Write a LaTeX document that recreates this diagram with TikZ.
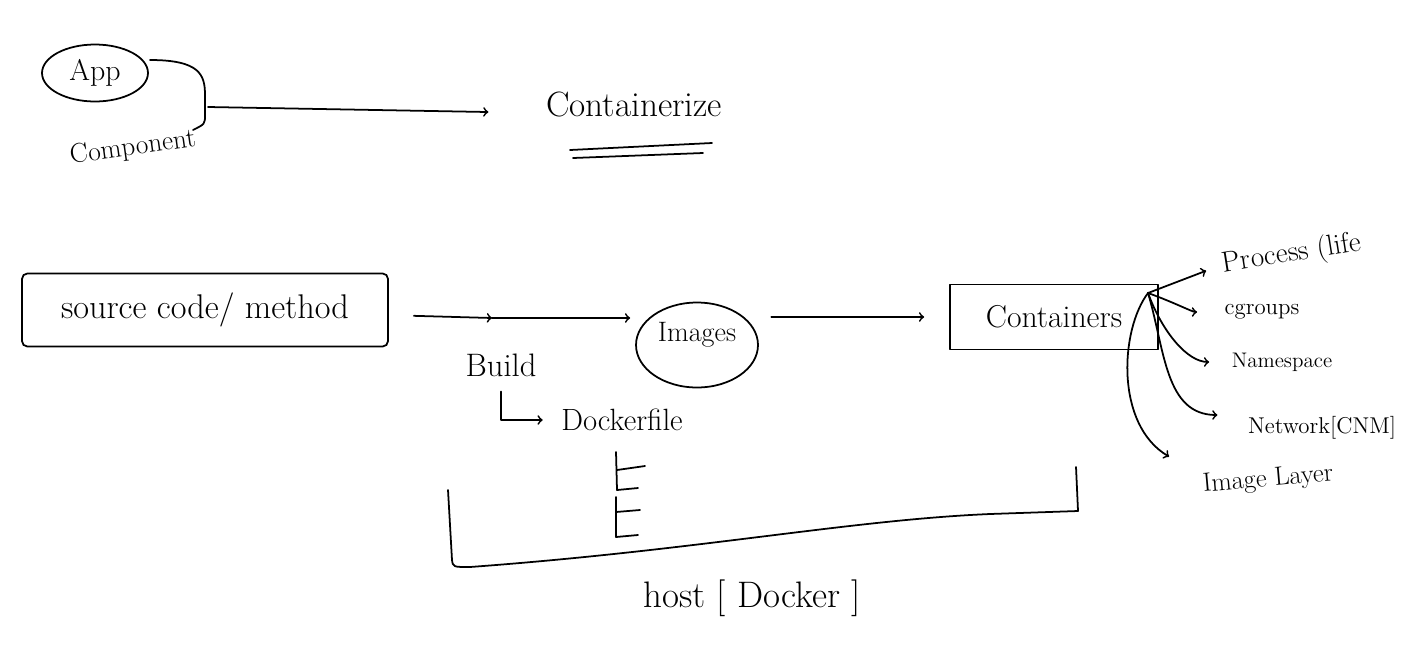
\documentclass[tikz,border=0pt]{standalone}
\usepackage{tikz}
\usetikzlibrary{shapes.geometric}

\begin{document}
\begin{tikzpicture}[x=0.02cm,y=-0.02cm,line width=1pt,line cap=round,line join=round,
    txt/.style={font=\fontsize{#1}{#1}\selectfont,inner sep=1pt},
    oval/.style={draw,ellipse,inner sep=0pt},
    box/.style={draw,rectangle,inner sep=0pt}]
         \useasboundingbox (0,0) rectangle (1408,670) ;
         % top row
         \node[oval,minimum width=2.12cm,minimum height=1.14cm,txt=17] (app) at (95,73) {App} ;
         \node[txt=15.5,rotate=8] (comp) at (133,148) {Component} ;
         \draw (150,60) .. controls (200,60) and (205,75) .. (205,95) -- (205,115) .. controls (205,124) .. (193,130) ;
         \coordinate (brace) at (208,107) ;
         \node[txt=20] (ctr) at (634,104) {Containerize} ;
         \draw[->,shorten >=1.1cm] (brace) -- (ctr.west |- 0,113) ;
         \draw (570,150) -- (712,143) ;
         \draw (573,158) -- (703,153) ;
         % build chain
         \node[box,rounded corners=3pt,minimum width=7.32cm,minimum height=1.46cm,txt=19.5] (src) at (205,310) {source code/ method} ;
         \coordinate (bmid) at (492,318) ;
         \node[oval,minimum width=2.44cm,minimum height=1.7cm,txt=16,text depth=15pt] (img) at (697,345) {Images} ;
         \node[box,minimum width=4.16cm,minimum height=1.3cm,txt=18] (cont) at (1054,317) {Containers} ;
         \draw[->,shorten <=0.5cm] (src) -- (bmid) ;
         \draw[->,shorten >=0.1cm] (bmid) -- (img.west |- bmid) ;
         \draw[->,shorten <=0.25cm,shorten >=0.5cm] (img.east |- cont) -- (cont.west) ;
         \node[txt=18.5] (bld) at (501,365) {Build} ;
         \node[txt=17.5] (dkf) at (622,420) {Dockerfile} ;
         \draw[->,shorten <=0.25cm,shorten >=0.32cm] (bld.south) |- (dkf.west) ;
         % layers under the Dockerfile
         \draw (616,452) -- (617,490) -- (638,488) ;
         \draw (617,470) -- (645,466) ;
         \draw (616,497) -- (616,537) -- (638,535) ;
         \draw (616,512) -- (640,510) ;
         % host
         \draw (448,490) -- (452,560) .. controls (453,567) .. (470,567)
               .. controls (700,550) and (850,520) .. (990,514) -- (1078,511) -- (1076,467) ;
         \node[txt=21] (host) at (752,598) {host [ Docker ]} ;
         % what a container is made of
         \coordinate (hub) at (1148,293) ;
         \node[txt=16.5,rotate=9] (proc) at (1292,254) {Process (life} ;
         \node[txt=13] (cg) at (1262,312) {cgroups} ;
         \node[txt=12] (ns) at (1282,362) {Namespace} ;
         \node[txt=13] (net) at (1322,428) {Network[CNM]} ;
         \node[txt=15,rotate=5] (lay) at (1268,480) {Image Layer} ;
         \draw[->,shorten >=0.3cm] (hub) -- (proc.west) ;
         \draw[->,shorten >=0.5cm] (hub) to[out=-20,in=180] (cg.west) ;
         \draw[->,shorten >=0.4cm] (hub) to[out=-70,in=180] (ns.west) ;
         \draw[->] (hub) .. controls (1165,350) and (1165,415) .. ([shift={(-28,-13)}]net.west) ;
         \draw[->] (hub) .. controls (1120,330) and (1115,425) .. ([shift={(-30,-15)}]lay.north west) ;
\end{tikzpicture}
\end{document}
